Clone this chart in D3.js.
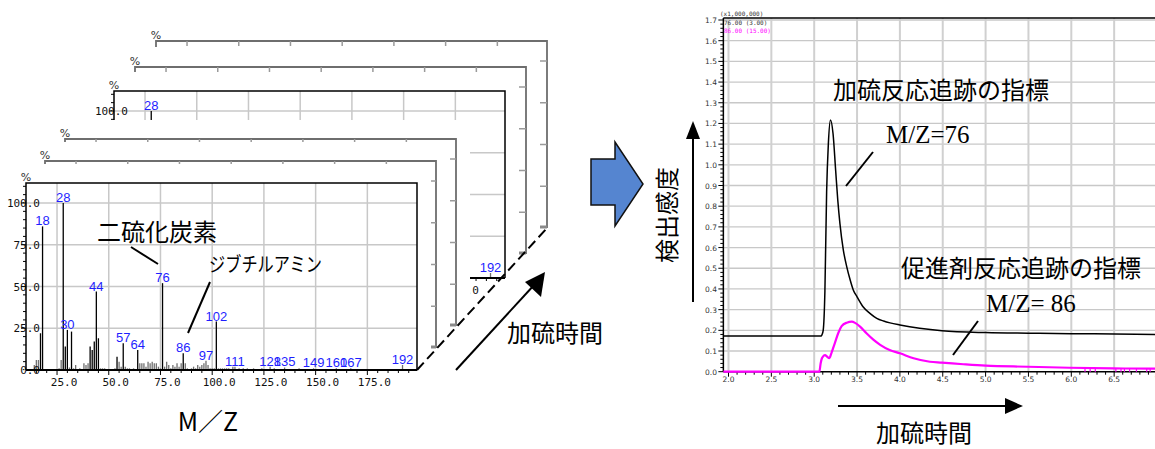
<!DOCTYPE html>
<html>
<head>
<meta charset="utf-8">
<script src="https://cdn.jsdelivr.net/npm/d3@7"></script>
<style>
  body { margin: 0; background: #fff; }
  svg { display: block; }
</style>
</head>
<body>
<div id="chart"></div>
<script>
// ---- values ----

// mass spectrum (front panel): m/z and relative intensity %
const spectrumMz = [14, 15, 16, 17, 18, 26, 27, 28, 29, 30, 31, 32, 33, 34, 36, 38, 39, 40, 41, 42, 43, 44, 45, 46, 47, 48,
  53, 54, 55, 56, 57, 58, 59, 60, 62, 64, 65, 66, 67, 68, 69, 70, 71, 72, 73, 74, 75, 76, 77, 78, 79, 80, 81, 82, 83, 84, 85,
  86, 87, 88, 90, 91, 92, 93, 94, 95, 96, 97, 98, 99, 100, 101, 102, 103, 104, 105, 106, 107, 108, 110, 111, 113, 115,
  117, 120, 124, 128, 130, 135, 142, 149, 155, 160, 167, 178, 192]
const spectrumPct = [3, 6, 6, 22, 86, 1, 6, 100, 14, 24, 1.5, 23, 1, 3, 1, 4, 3, 4, 14, 12, 17, 47, 19, 1, 1, 1,
  1, 8, 5, 2, 16, 2, 1, 1, 1, 12, 4, 4, 4, 2, 5, 4, 5, 4, 4, 2, 1, 52, 2, 5, 3, 1, 3, 2, 4, 2, 4,
  10, 4, 1, 1, 2, 1, 3, 2, 3, 4, 5.5, 3, 1, 1, 1, 29, 1, 1, 1, 1, 1, 1, 2, 2, 1, 1,
  1, 1, 1, 2, 1, 1.5, 1, 1, 0.5, 1, 1, 0.5, 3]
const labelledPeaks = [18, 28, 30, 44, 57, 64, 76, 86, 97, 102, 111, 128, 135, 149, 160, 167, 192]
const mzTicks = [25, 50, 75, 100, 125, 150, 175]
const pctTicks = [0, 25, 50, 75, 100]

// ion chromatograms: time (min) and signal (x1,000,000)
const time76 = [1.94, 3.0, 3.08, 3.09, 3.105, 3.125, 3.145, 3.165, 3.19, 3.22, 3.25, 3.275, 3.3, 3.34, 3.38, 3.42,
  3.456, 3.5, 3.57, 3.65, 3.73, 3.81, 3.885, 4.0, 4.23, 4.49, 5.0, 5.5, 6.0, 6.5, 7.0]
const signal76 = [0.172, 0.172, 0.172, 0.178, 0.2, 0.39, 0.87, 1.1, 1.217, 1.15, 0.975, 0.83, 0.717, 0.588, 0.507, 0.443,
  0.395, 0.362, 0.314, 0.282, 0.258, 0.245, 0.236, 0.226, 0.21, 0.198, 0.189, 0.186, 0.184, 0.182, 0.18]
const time86 = [1.94, 3.06, 3.075, 3.09, 3.1, 3.126, 3.153, 3.176, 3.2, 3.24, 3.28, 3.32, 3.38, 3.44, 3.477, 3.535,
  3.61, 3.69, 3.77, 3.88, 4.0, 4.16, 4.35, 4.49, 4.74, 5.0, 5.49, 5.98, 6.49, 6.96, 7.0]
const signal86 = [0, 0, 0.04, 0.065, 0.072, 0.08, 0.072, 0.066, 0.089, 0.137, 0.186, 0.22, 0.237, 0.242, 0.236, 0.218,
  0.186, 0.155, 0.13, 0.105, 0.089, 0.065, 0.048, 0.044, 0.036, 0.029, 0.024, 0.019, 0.016, 0.015, 0.015]
const dropouts86 = [6.16, 6.22, 6.28, 6.52, 6.58, 6.62, 6.68, 6.76, 6.88, 6.92]
const timeTicks = [2.0, 2.5, 3.0, 3.5, 4.0, 4.5, 5.0, 5.5, 6.0, 6.5, 7.0]
const timeTickLabels = ['2.0', '2.5', '3.0', '3.5', '4.0', '4.5', '5.0', '5.5', '6.0', '6.5', '7']
const signalTicks = [0, 0.1, 0.2, 0.3, 0.4, 0.5, 0.6, 0.7, 0.8, 0.9, 1.0, 1.1, 1.2, 1.3, 1.4, 1.5, 1.6, 1.7]

// ---- layout ----
const width = 1155
const height = 449
const jp = "'Noto Sans CJK JP', sans-serif"
const blue = '#1e1eff'
const magenta = '#ff00ff'
const gridColor = '#c8c8c8'

const svg = d3
  .select('#chart')
  .append('svg')
  .attr('width', width)
  .attr('height', height)

// ================= left: stacked mass spectra =================
const frameW = 391
const frameH = 187
const xL = d3.scaleLinear().domain([10, 199]).range([0, frameW])
const yL = d3.scaleLinear().domain([0, 100]).range([frameH, 20])

// back to front
const frames = [
  { x: 156, y: 41, kind: 'edge' },
  { x: 135, y: 67, kind: 'edge' },
  { x: 114, y: 91, kind: 'full' },
  { x: 65, y: 139, kind: 'edge' },
  { x: 45, y: 161, kind: 'edge' },
  { x: 26, y: 183, kind: 'full' }
]
const pad = { left: 40, top: 19, right: 14, bottom: 41 }

const peaks = spectrumMz.map((mz, i) => ({ mz: mz, pct: spectrumPct[i] }))

// is an absolute point hidden behind one of the frames in front of frame i?
function hidden(i, ax, ay) {
  return frames.slice(i + 1).some(f =>
    ax >= f.x - pad.left && ax <= f.x + frameW + pad.right &&
    ay >= f.y - pad.top && ay <= f.y + frameH + pad.bottom)
}

function drawFull(g, f, i) {
  const shown = (x, y) => !hidden(i, f.x + x, f.y + y)

  g.selectAll('.vgrid')
    .data(mzTicks)
    .join('line')
    .attr('x1', d => xL(d))
    .attr('x2', d => xL(d))
    .attr('y1', 0)
    .attr('y2', frameH)
    .attr('stroke', gridColor)
    .attr('stroke-width', 1.5)

  g.selectAll('.hgrid')
    .data(pctTicks.filter(d => d > 0))
    .join('line')
    .attr('x1', 0)
    .attr('x2', frameW)
    .attr('y1', d => yL(d))
    .attr('y2', d => yL(d))
    .attr('stroke', gridColor)
    .attr('stroke-width', 1.5)

  g.selectAll('.peak')
    .data(peaks)
    .join('line')
    .attr('x1', d => xL(d.mz))
    .attr('x2', d => xL(d.mz))
    .attr('y1', yL(0))
    .attr('y2', d => yL(d.pct))
    .attr('stroke', d => (d.pct >= 8 ? '#000' : '#707070'))
    .attr('stroke-width', 1.3)

  g.selectAll('.peak-label')
    .data(peaks.filter(d => labelledPeaks.includes(d.mz) && shown(xL(d.mz), yL(d.pct) - 5)))
    .join('text')
    .attr('x', d => xL(d.mz))
    .attr('y', d => yL(d.pct) - 1)
    .attr('text-anchor', 'middle')
    .attr('font-family', "'Liberation Sans', Arial, sans-serif")
    .attr('font-size', 13)
    .attr('fill', blue)
    .text(d => d.mz)

  // minor ticks
  g.selectAll('.xminor')
    .data(d3.range(15, 199, 5))
    .join('line')
    .attr('x1', d => xL(d))
    .attr('x2', d => xL(d))
    .attr('y1', frameH)
    .attr('y2', d => frameH + (d % 25 === 0 ? 5 : 3))
    .attr('stroke', '#000')
    .attr('stroke-width', 1)

  g.selectAll('.yminor')
    .data(d3.range(5, 111, 5))
    .join('line')
    .attr('x1', d => (d % 25 === 0 ? -5 : -3))
    .attr('x2', 0)
    .attr('y1', d => yL(d))
    .attr('y2', d => yL(d))
    .attr('stroke', '#000')
    .attr('stroke-width', 1)

  // a tick label is kept when its right end is not covered
  g.selectAll('.xlabel')
    .data(mzTicks.filter(d => shown(xL(d) + 7 + 17, frameH + 12)))
    .join('text')
    .attr('x', d => xL(d) + 7)
    .attr('y', frameH + 16)
    .attr('text-anchor', 'middle')
    .attr('font-family', "'DejaVu Sans Mono', monospace")
    .attr('font-size', 11)
    .attr('fill', '#111')
    .text(d => d.toFixed(1))

  g.selectAll('.ylabel')
    .data(pctTicks.filter(d => shown(0, yL(d) + 4)))
    .join('text')
    .attr('x', 14)
    .attr('y', d => yL(d) + 4)
    .attr('text-anchor', 'end')
    .attr('font-family', "'DejaVu Sans Mono', monospace")
    .attr('font-size', 11)
    .attr('fill', '#111')
    .text(d => d.toFixed(1))

  // frame
  g.append('path')
    .attr('d', `M0,${frameH}V0H${frameW}V${frameH}`)
    .attr('fill', 'none')
    .attr('stroke', '#000')
    .attr('stroke-width', 1.5)
  g.append('line')
    .attr('x1', 0)
    .attr('x2', frameW)
    .attr('y1', frameH)
    .attr('y2', frameH)
    .attr('stroke', '#000')
    .attr('stroke-width', 2.2)
}

function drawEdge(g) {
  g.append('path')
    .attr('d', `M0,6V0H${frameW}V${frameH}`)
    .attr('fill', 'none')
    .attr('stroke', '#6e6e6e')
    .attr('stroke-width', 1.8)

  g.selectAll('.ttick')
    .data(mzTicks)
    .join('line')
    .attr('x1', d => xL(d))
    .attr('x2', d => xL(d))
    .attr('y1', 0)
    .attr('y2', 5)
    .attr('stroke', '#9a9a9a')
    .attr('stroke-width', 1.5)

  g.selectAll('.rtick')
    .data(pctTicks.filter(d => d > 0))
    .join('line')
    .attr('x1', frameW - 7)
    .attr('x2', frameW)
    .attr('y1', d => yL(d))
    .attr('y2', d => yL(d))
    .attr('stroke', '#9a9a9a')
    .attr('stroke-width', 1.5)

  g.append('line')
    .attr('x1', frameW - 17)
    .attr('x2', frameW)
    .attr('y1', frameH - 1)
    .attr('y2', frameH - 1)
    .attr('stroke', '#8a8a8a')
    .attr('stroke-width', 3)
}

frames.forEach((f, i) => {
  const g = svg.append('g').attr('transform', `translate(${f.x},${f.y})`)
  // white backing hides the frames behind
  g.append('rect')
    .attr('x', -pad.left)
    .attr('y', -pad.top)
    .attr('width', frameW + pad.left + pad.right)
    .attr('height', frameH + pad.top + pad.bottom)
    .attr('fill', '#fff')
  g.append('text')
    .attr('x', 0)
    .attr('y', -2)
    .attr('text-anchor', 'middle')
    .attr('font-family', "'DejaVu Sans', sans-serif")
    .attr('font-size', 11)
    .attr('fill', '#333')
    .text('%')
  if (f.kind === 'full') drawFull(g, f, i)
  else drawEdge(g)
})

// dashed line through the bottom right corners
svg.append('line')
  .attr('x1', 417)
  .attr('y1', 370)
  .attr('x2', 548)
  .attr('y2', 227)
  .attr('stroke', '#000')
  .attr('stroke-width', 2)
  .attr('stroke-dasharray', '10,5')

// annotations on the spectrum
svg.append('text')
  .attr('x', 97)
  .attr('y', 241)
  .attr('font-family', jp)
  .attr('font-size', 24)
  .text('二硫化炭素')
svg.append('line')
  .attr('x1', 131).attr('y1', 247).attr('x2', 158).attr('y2', 264)
  .attr('stroke', '#000').attr('stroke-width', 2)

svg.append('text')
  .attr('x', 209)
  .attr('y', 272)
  .attr('font-family', jp)
  .attr('font-size', 20)
  .attr('textLength', 113)
  .attr('lengthAdjust', 'spacingAndGlyphs')
  .text('ジブチルアミン')
svg.append('line')
  .attr('x1', 210).attr('y1', 282).attr('x2', 188).attr('y2', 333)
  .attr('stroke', '#000').attr('stroke-width', 2)

svg.append('text')
  .attr('x', 208)
  .attr('y', 431)
  .attr('text-anchor', 'middle')
  .attr('font-family', jp)
  .attr('font-size', 25)
  .text('M／Z')

// time arrow along the stack
svg.append('line')
  .attr('x1', 456).attr('y1', 370).attr('x2', 535).attr('y2', 284)
  .attr('stroke', '#000').attr('stroke-width', 2)
svg.append('path')
  .attr('d', 'M545,272L541,297L525,282Z')
  .attr('fill', '#000')
svg.append('text')
  .attr('x', 507)
  .attr('y', 342)
  .attr('font-family', jp)
  .attr('font-size', 24)
  .text('加硫時間')

// block arrow
svg.append('path')
  .attr('d', 'M591,159H615V142L643,184L615,226V205H591Z')
  .attr('fill', '#5585d0')
  .attr('stroke', '#111')
  .attr('stroke-width', 1.5)

// ================= right: ion chromatograms =================
const xR = d3.scaleLinear().domain([2, 7]).range([728.5, 1157])
const yR = d3.scaleLinear().domain([0, 1.7]).range([371.7, 20])
const leftR = xR(1.94)
const rightR = 1157

const gr = svg.append('g')

gr.selectAll('.hgrid')
  .data(signalTicks.filter(d => d > 0))
  .join('line')
  .attr('x1', leftR)
  .attr('x2', rightR)
  .attr('y1', d => yR(d))
  .attr('y2', d => yR(d))
  .attr('stroke', gridColor)
  .attr('stroke-width', 1.3)

gr.selectAll('.vgrid')
  .data(timeTicks)
  .join('line')
  .attr('x1', d => xR(d))
  .attr('x2', d => xR(d))
  .attr('y1', yR(1.71))
  .attr('y2', yR(0))
  .attr('stroke', '#d0d0d0')
  .attr('stroke-width', 2)

// axes
gr.append('line')
  .attr('x1', leftR).attr('x2', leftR).attr('y1', 18).attr('y2', yR(0))
  .attr('stroke', '#000').attr('stroke-width', 1.5)
gr.append('line')
  .attr('x1', leftR).attr('x2', rightR).attr('y1', 18).attr('y2', 18)
  .attr('stroke', '#000').attr('stroke-width', 1.5)
gr.append('line')
  .attr('x1', leftR).attr('x2', rightR).attr('y1', yR(0)).attr('y2', yR(0))
  .attr('stroke', '#000').attr('stroke-width', 1.5)

gr.selectAll('.yminor')
  .data(d3.range(0, 86).map(i => i * 0.02))
  .join('line')
  .attr('x1', (d, i) => leftR - (i % 5 === 0 ? 5 : 3))
  .attr('x2', leftR)
  .attr('y1', d => yR(d))
  .attr('y2', d => yR(d))
  .attr('stroke', '#000')
  .attr('stroke-width', 1)

gr.selectAll('.xminor')
  .data(d3.range(0, 51).map(i => 2 + i * 0.1))
  .join('line')
  .attr('x1', d => xR(d))
  .attr('x2', d => xR(d))
  .attr('y1', yR(0))
  .attr('y2', (d, i) => yR(0) + (i % 5 === 0 ? 5 : 3))
  .attr('stroke', '#000')
  .attr('stroke-width', 1)

gr.selectAll('.ylabel')
  .data(signalTicks)
  .join('text')
  .attr('x', 717)
  .attr('y', d => yR(d) + 3)
  .attr('text-anchor', 'end')
  .attr('font-family', "'DejaVu Sans', sans-serif")
  .attr('font-size', 7.5)
  .attr('fill', '#333')
  .text(d => d.toFixed(1))

gr.selectAll('.xlabel')
  .data(timeTicks)
  .join('text')
  .attr('x', d => xR(d))
  .attr('y', 382)
  .attr('text-anchor', 'middle')
  .attr('font-family', "'DejaVu Sans', sans-serif")
  .attr('font-size', 7.5)
  .attr('fill', '#333')
  .text((d, i) => timeTickLabels[i])

// headers
gr.append('text')
  .attr('x', 720).attr('y', 16)
  .attr('font-family', "'DejaVu Sans Mono', monospace").attr('font-size', 6)
  .attr('fill', '#333').text('(x1,000,000)')
gr.append('text')
  .attr('x', 724).attr('y', 25)
  .attr('font-family', "'DejaVu Sans Mono', monospace").attr('font-size', 6)
  .attr('fill', '#333').text('76.00 (3.00)')
gr.append('text')
  .attr('x', 724).attr('y', 32.5)
  .attr('font-family', "'DejaVu Sans Mono', monospace").attr('font-size', 6)
  .attr('fill', magenta).text('86.00 (15.00)')

// curves
const line = d3
  .line()
  .x(d => xR(d[0]))
  .y(d => yR(d[1]))
  .curve(d3.curveMonotoneX)

gr.append('path')
  .datum(time86.map((t, i) => [t, signal86[i]]))
  .attr('d', line)
  .attr('fill', 'none')
  .attr('stroke', magenta)
  .attr('stroke-width', 2.2)

gr.selectAll('.dropout')
  .data(dropouts86)
  .join('line')
  .attr('x1', d => xR(d))
  .attr('x2', d => xR(d))
  .attr('y1', yR(0.016))
  .attr('y2', yR(0))
  .attr('stroke', magenta)
  .attr('stroke-width', 1.2)

gr.append('path')
  .datum(time76.map((t, i) => [t, signal76[i]]))
  .attr('d', line)
  .attr('fill', 'none')
  .attr('stroke', '#000')
  .attr('stroke-width', 1.5)

// annotations on the chromatogram
svg.append('text')
  .attr('x', 833).attr('y', 99)
  .attr('font-family', jp).attr('font-size', 24)
  .text('加硫反応追跡の指標')
svg.append('text')
  .attr('x', 886).attr('y', 143)
  .attr('font-family', "'Liberation Serif', 'Times New Roman', serif").attr('font-size', 25)
  .text('M/Z=76')
svg.append('line')
  .attr('x1', 846).attr('y1', 186).attr('x2', 873).attr('y2', 152)
  .attr('stroke', '#000').attr('stroke-width', 2)

svg.append('text')
  .attr('x', 901).attr('y', 277)
  .attr('font-family', jp).attr('font-size', 24)
  .text('促進剤反応追跡の指標')
svg.append('text')
  .attr('x', 986).attr('y', 312)
  .attr('font-family', "'Liberation Serif', 'Times New Roman', serif").attr('font-size', 25)
  .attr('xml:space', 'preserve')
  .text('M/Z= 86')
svg.append('line')
  .attr('x1', 953).attr('y1', 355).attr('x2', 978).attr('y2', 321)
  .attr('stroke', '#000').attr('stroke-width', 2)

// axis arrows and titles
svg.append('line')
  .attr('x1', 693).attr('y1', 302).attr('x2', 693).attr('y2', 136)
  .attr('stroke', '#000').attr('stroke-width', 2)
svg.append('path')
  .attr('d', 'M693,121L700,139H686Z')
  .attr('fill', '#000')
svg.append('text')
  .attr('transform', 'translate(676,215) rotate(-90)')
  .attr('text-anchor', 'middle')
  .attr('font-family', jp).attr('font-size', 24)
  .text('検出感度')

svg.append('line')
  .attr('x1', 838).attr('y1', 406).attr('x2', 1008).attr('y2', 406)
  .attr('stroke', '#000').attr('stroke-width', 2)
svg.append('path')
  .attr('d', 'M1023,406L1005,398V414Z')
  .attr('fill', '#000')
svg.append('text')
  .attr('x', 924).attr('y', 442)
  .attr('text-anchor', 'middle')
  .attr('font-family', jp).attr('font-size', 24)
  .text('加硫時間')
</script>
</body>
</html>
